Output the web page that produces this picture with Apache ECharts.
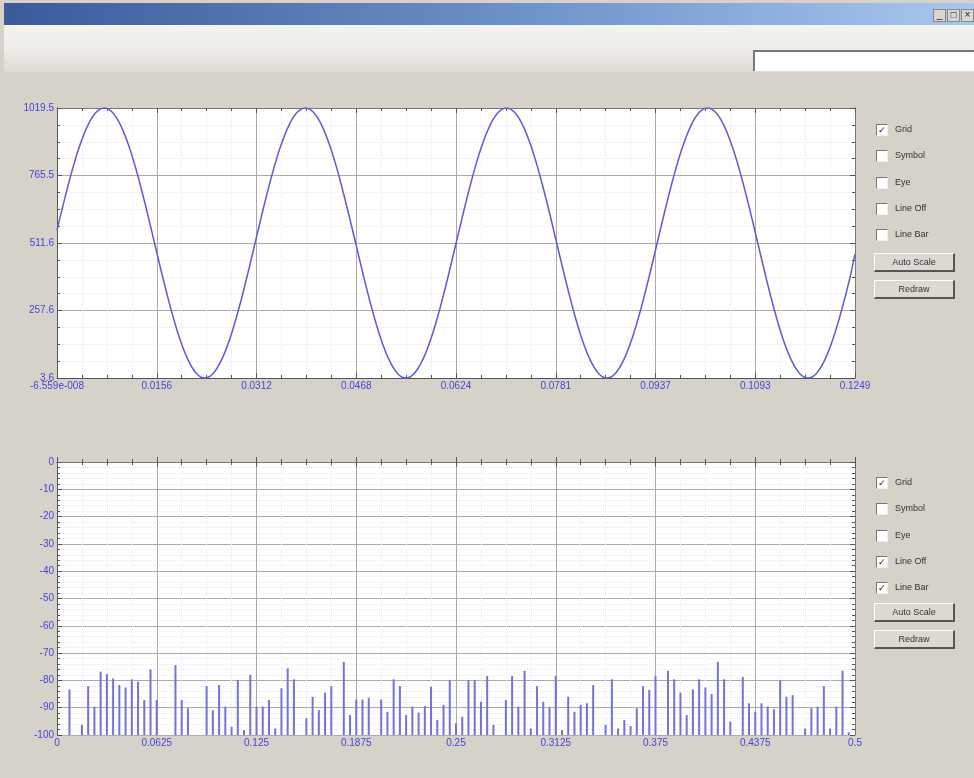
<!DOCTYPE html>
<html>
<head>
<meta charset="UTF-8">
<title>Plot</title>
<script src="https://cdn.jsdelivr.net/npm/echarts@6.0.0/dist/echarts.min.js"></script>
<style>
    body{margin:0;width:974px;height:778px;background:#d6d2ca;position:relative;overflow:hidden;font-family:"Liberation Sans",Arial,sans-serif;}
    .titlebar{position:absolute;left:4px;top:3px;width:970px;height:22px;background:linear-gradient(to right,#3b5a9a,#6f93cc 55%,#a9c8ef);}
    .winbtns{position:absolute;right:0;top:6px;font-size:10px;color:#222;}
    .winbtns span{display:inline-block;width:11px;height:11px;background:#d8d6d0;border:1px solid #888;margin-left:1px;text-align:center;line-height:10px;}
    .toolbar{position:absolute;left:4px;top:25px;width:970px;height:47px;background:linear-gradient(to bottom,#f4f3f0,#efeeea 45%,#dedbd4);}
    .textbox{position:absolute;left:753px;top:50px;width:221px;height:21px;background:#fff;border-top:2px solid #777;border-left:2px solid #777;box-sizing:border-box;}
    #chart{position:absolute;left:0;top:0;width:974px;height:778px;}
    .ctl{position:absolute;left:876px;font-size:9px;color:#333;}
    .cb{position:absolute;left:0;width:10px;height:10px;background:#fff;border-top:1px solid #777;border-left:1px solid #777;border-bottom:1px solid #eee;border-right:1px solid #eee;font-size:9px;line-height:10px;text-align:center;color:#222;}
    .cbl{position:absolute;left:19px;white-space:nowrap;}
    .btn{position:absolute;left:874px;width:81px;height:19px;background:#dcd9d2;border-top:1px solid #fff;border-left:1px solid #fff;border-right:2px solid #555;border-bottom:2px solid #555;box-sizing:border-box;font-size:9px;color:#333;text-align:center;line-height:17px;}
</style>
</head>
<body>
<div class="titlebar"><div class="winbtns"><span>_</span><span>□</span><span>×</span></div></div>
<div class="toolbar"></div>
<div class="textbox"></div>
<div id="chart"></div>
<div id="controls"></div>
<script>
    // 上图：正弦波采样点
    var sineX=[0,
        0.00084,0.00215,0.00346,0.00477,0.00609,0.00740,0.00871,0.01002,0.01133,0.01264,0.01395,0.01526,
        0.01658,0.01789,0.01920,0.02051,0.02182,0.02313,0.02444,0.02575,0.02707,0.02838,0.02969,0.03100,
        0.03231,0.03362,0.03493,0.03624,0.03756,0.03887,0.04018,0.04149,0.04280,0.04411,0.04542,0.04674,
        0.04805,0.04936,0.05067,0.05198,0.05329,0.05460,0.05591,0.05723,0.05854,0.05985,0.06116,0.06247,
        0.06378,0.06509,0.06640,0.06772,0.06903,0.07034,0.07165,0.07296,0.07427,0.07558,0.07690,0.07821,
        0.07952,0.08083,0.08214,0.08345,0.08476,0.08607,0.08739,0.08870,0.09001,0.09132,0.09263,0.09394,
        0.09525,0.09656,0.09788,0.09919,0.10050,0.10181,0.10312,0.10443,0.10574,0.10706,0.10837,0.10968,
        0.11099,0.11230,0.11361,0.11492,0.11623,0.11755,0.11886,0.12017,0.12148,0.12279,0.12410,
        0.1249];
    var sineY=[560,
        643.1,765.5,870.7,951.4,1002.2,1019.5,1002.2,951.4,870.7,765.5,643.1,511.6,
        380.0,257.6,152.4,71.7,20.9,3.6,20.9,71.7,152.4,257.6,380.0,511.6,
        643.1,765.5,870.7,951.4,1002.2,1019.5,1002.2,951.4,870.7,765.5,643.1,511.6,
        380.0,257.6,152.4,71.7,20.9,3.6,20.9,71.7,152.4,257.6,380.0,511.6,
        643.1,765.5,870.7,951.4,1002.2,1019.5,1002.2,951.4,870.7,765.5,643.1,511.6,
        380.0,257.6,152.4,71.7,20.9,3.6,20.9,71.7,152.4,257.6,380.0,511.6,
        643.1,765.5,870.7,951.4,1002.2,1019.5,1002.2,951.4,870.7,765.5,643.1,511.6,
        380.0,257.6,152.4,71.7,20.9,3.6,20.9,71.7,152.4,257.6,380.0,
        470];
    var topXLabels=['-6.559e-008','0.0156','0.0312','0.0468','0.0624','0.0781','0.0937','0.1093','0.1249'];
    var topYLabels=['3.6','257.6','511.6','765.5','1019.5'];

    // 下图：频谱（128 个频点 + 0），单位 dB
    var binCount=128;
    var fftDb=[
        -100,-100,-83.3,-100,-96.3,-82.1,-89.6,-76.8,-77.7,-79.3,-81.7,-82.6,-79.6,-80.5,-87.2,-76,
        -87.2,-100,-100,-74.4,-87.2,-90.2,-100,-100,-82.1,-90.9,-81.7,-89.6,-97,-79.9,-98.2,-78,
        -89.6,-89.6,-87.2,-97.6,-82.9,-75.6,-79.6,-100,-93.9,-86,-90.9,-84.5,-82.1,-100,-73.2,-92.7,
        -87,-87,-86.4,-100,-87,-91.5,-79.6,-82.1,-92.7,-89.6,-91.8,-89.4,-82.3,-94.5,-89,-79.9,
        -95.7,-93.3,-79.9,-79.9,-87.8,-78.4,-96.3,-100,-87.2,-78.4,-89.6,-76.5,-97.6,-82.1,-87.8,-89.9,
        -78.4,-98.2,-86,-91.5,-89,-88.4,-81.7,-100,-96.3,-79.6,-97.6,-94.5,-96.7,-90.2,-82.1,-83.5,
        -78.4,-100,-76.5,-79.6,-84.5,-92.7,-83.3,-79.6,-82.6,-85,-73.2,-79.6,-95.1,-100,-78.7,-88.4,
        -91.5,-88.4,-89.6,-90.6,-79.9,-86,-85.4,-100,-97.6,-90.2,-89.6,-82.1,-97.6,-89.6,-76.5,-99,
        -100];
    var botXLabels=['0','0.0625','0.125','0.1875','0.25','0.3125','0.375','0.4375','0.5'];

    var topChecks=[['Grid',true],['Symbol',false],['Eye',false],['Line Off',false],['Line Bar',false]];
    var botChecks=[['Grid',true],['Symbol',false],['Eye',false],['Line Off',true],['Line Bar',true]];

    //右侧控件
    function addControls(top,checks,btnTop){
        var box=document.getElementById('controls');
        var html='';
        for(var i=0;i<checks.length;i++){
            var y=top+i*26.3;
            html+='<div class="ctl" style="top:'+(y-6)+'px"><div class="cb">'+(checks[i][1]?'✓':'')+'</div><div class="cbl" style="top:0">'+checks[i][0]+'</div></div>';
        }
        html+='<div class="btn" style="top:'+btnTop+'px">Auto Scale</div>';
        html+='<div class="btn" style="top:'+(btnTop+27)+'px">Redraw</div>';
        box.innerHTML+=html;
    }
    addControls(130,topChecks,253);
    addControls(483,botChecks,603);

    var sineData=[];
    for(var i=0;i<sineX.length;i++){ sineData.push([sineX[i],sineY[i]]); }
    var fftData=[];
    for(var i=0;i<fftDb.length;i++){ fftData.push([i*0.5/binCount,fftDb[i]]); }

    var labelStyle={color:'#4545d6',fontSize:10,fontFamily:'Liberation Sans, Arial',margin:3};
    var lineCol='#555';
    var gridCol='#aaaaaa';
    var minorCol='#e9e9f0';

    function mainAxis(extra){
        var a={
            axisLine:{show:true,lineStyle:{color:lineCol}},
            axisTick:{show:true,inside:true,length:5,lineStyle:{color:lineCol}},
            minorTick:{show:true,length:3,lineStyle:{color:lineCol}},
            splitLine:{show:true,lineStyle:{color:gridCol,width:1}},
            minorSplitLine:{show:true,lineStyle:{color:minorCol,type:'dotted'}},
            axisLabel:Object.assign({showMinLabel:true,showMaxLabel:true,hideOverlap:false},labelStyle)
        };
        return Object.assign(a,extra);
    }
    function frameAxis(extra){
        var a={
            axisLine:{show:true,onZero:false,lineStyle:{color:'#777'}},
            axisTick:{show:true,inside:true,length:5,lineStyle:{color:lineCol}},
            minorTick:{show:true,length:3,lineStyle:{color:lineCol}},
            splitLine:{show:false},
            axisLabel:{show:false}
        };
        return Object.assign(a,extra);
    }

    var chart=echarts.init(document.getElementById('chart'));
    var option={
        animation:false,
        grid:[
            {left:57,top:108,width:798,height:270,show:true,backgroundColor:'#fff',borderWidth:0},
            {left:57,top:462,width:798,height:273,show:true,backgroundColor:'#fff',borderWidth:0}
        ],
        xAxis:[
            mainAxis({type:'value',gridIndex:0,position:'bottom',min:0,max:0.1249,interval:0.0156125,
                minorTick:{show:true,splitNumber:4,length:3,lineStyle:{color:lineCol}},
                axisLabel:Object.assign({showMinLabel:true,showMaxLabel:true,formatter:function(v,i){return topXLabels[i];}},labelStyle)}),
            frameAxis({type:'value',gridIndex:0,position:'top',min:0,max:0.1249,interval:0.0156125,
                minorTick:{show:true,splitNumber:4,length:3,lineStyle:{color:lineCol}}}),
            mainAxis({type:'value',gridIndex:1,position:'bottom',min:0,max:0.5,interval:0.0625,
                minorTick:{show:true,splitNumber:4,length:3,lineStyle:{color:lineCol}},
                axisLabel:Object.assign({showMinLabel:true,showMaxLabel:true,formatter:function(v,i){return botXLabels[i];}},labelStyle)}),
            frameAxis({type:'value',gridIndex:1,position:'top',min:0,max:0.5,interval:0.0625,
                minorTick:{show:true,splitNumber:4,length:3,lineStyle:{color:lineCol}}})
        ],
        yAxis:[
            mainAxis({type:'value',gridIndex:0,position:'left',min:3.6,max:1019.5,interval:253.975,
                minorTick:{show:true,splitNumber:4,length:3,lineStyle:{color:lineCol}},
                axisLabel:Object.assign({showMinLabel:true,showMaxLabel:true,formatter:function(v,i){return topYLabels[i];}},labelStyle)}),
            frameAxis({type:'value',gridIndex:0,position:'right',min:3.6,max:1019.5,interval:253.975,
                minorTick:{show:true,splitNumber:4,length:3,lineStyle:{color:lineCol}}}),
            mainAxis({type:'value',gridIndex:1,position:'left',min:-100,max:0,interval:10,
                minorTick:{show:true,splitNumber:5,length:3,lineStyle:{color:lineCol}}}),
            frameAxis({type:'value',gridIndex:1,position:'right',min:-100,max:0,interval:10,
                minorTick:{show:true,splitNumber:5,length:3,lineStyle:{color:lineCol}}})
        ],
        series:[
            {
                type:'line',xAxisIndex:0,yAxisIndex:0,data:sineData,smooth:0.3,
                showSymbol:false,lineStyle:{color:'#5c5cd8',width:1.5}
            },
            {
                type:'custom',xAxisIndex:2,yAxisIndex:2,data:fftData,clip:true,
                encode:{x:0,y:1},
                renderItem:function(params,api){
                    var x=api.value(0),v=api.value(1);
                    var p0=api.coord([x,-100]);
                    var p1=api.coord([x,v]);
                    return {type:'line',shape:{x1:p0[0],y1:p0[1],x2:p1[0],y2:p1[1]},
                        style:{stroke:'#7272dc',lineWidth:2}};
                }
            }
        ]
    };
    chart.setOption(option);
</script>
</body>
</html>
